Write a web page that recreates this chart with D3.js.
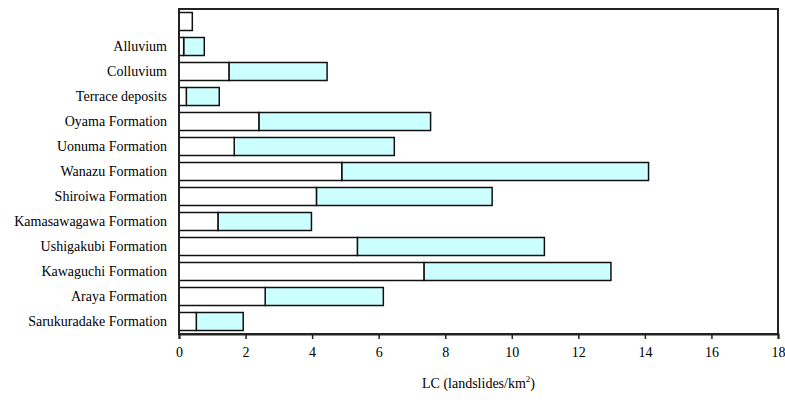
<!DOCTYPE html>
<html>
<head>
<meta charset="utf-8">
<script src="https://cdn.jsdelivr.net/npm/d3@7"></script>
<style>
  body { margin: 0; background: #fff; }
</style>
</head>
<body>
<div id="chart"></div>
<script>
'use strict';

var serif = '"Liberation Serif", "Times New Roman", Times, serif';

// categories, top to bottom (first row has no label)
var categories = ['', 'Alluvium', 'Colluvium', 'Terrace deposits', 'Oyama Formation',
    'Uonuma Formation', 'Wanazu Formation', 'Shiroiwa Formation', 'Kamasawagawa Formation',
    'Ushigakubi Formation', 'Kawaguchi Formation', 'Araya Formation', 'Sarukuradake Formation'];
// white segment (from 0)
var whiteValues = [0.4, 0.14, 1.5, 0.22, 2.4, 1.66, 4.89, 4.13, 1.17, 5.36, 7.36, 2.59, 0.52];
// cyan segment end (total)
var totalValues = [0.4, 0.76, 4.45, 1.21, 7.56, 6.47, 14.11, 9.41, 3.98, 10.98, 12.98, 6.14, 1.93];
var xTicks = [0, 2, 4, 6, 8, 10, 12, 14, 16, 18];

var width = 785, height = 402;
var margin = {top: 9, right: 7, bottom: 68, left: 179};

var svg = d3.select('#chart').append('svg')
    .attr('width', width)
    .attr('height', height)
    .attr('font-family', serif);

var x = d3.scaleLinear().domain([0, 18]).range([margin.left, width - margin.right]);
var y = d3.scaleBand().domain(categories)
    .range([margin.top, height - margin.bottom])
    .paddingInner(0.28).paddingOuter(0.14);

var rows = categories.map(function(c, i) {
    return {cat: c, w: whiteValues[i], t: totalValues[i]};
});

// cyan segments
svg.append('g').selectAll('rect')
    .data(rows.filter(function(d) { return d.t > d.w; }))
    .enter().append('rect')
    .attr('x', function(d) { return x(d.w); })
    .attr('y', function(d) { return y(d.cat); })
    .attr('width', function(d) { return x(d.t) - x(d.w); })
    .attr('height', y.bandwidth())
    .attr('fill', '#ccffff')
    .attr('stroke', '#111')
    .attr('stroke-width', 1.5);

// white segments
svg.append('g').selectAll('rect')
    .data(rows)
    .enter().append('rect')
    .attr('x', x(0))
    .attr('y', function(d) { return y(d.cat); })
    .attr('width', function(d) { return x(d.w) - x(0); })
    .attr('height', y.bandwidth())
    .attr('fill', '#fff')
    .attr('stroke', '#111')
    .attr('stroke-width', 1.5);

// plot frame
svg.append('rect')
    .attr('x', margin.left)
    .attr('y', margin.top)
    .attr('width', width - margin.right - margin.left)
    .attr('height', height - margin.bottom - margin.top)
    .attr('fill', 'none')
    .attr('stroke', '#222')
    .attr('stroke-width', 2);

// x axis
var xAxis = svg.append('g')
    .attr('transform', 'translate(0,' + (height - margin.bottom) + ')')
    .call(d3.axisBottom(x).tickValues(xTicks).tickSize(5).tickPadding(8).tickFormat(d3.format('d')));
xAxis.attr('font-family', serif).attr('font-size', 14);
xAxis.select('.domain').attr('stroke', '#222').attr('stroke-width', 2);
xAxis.selectAll('.tick line').attr('stroke', '#222').attr('stroke-width', 1.5);
xAxis.selectAll('text').attr('fill', '#000');

// category labels
svg.append('g').selectAll('text')
    .data(categories)
    .enter().append('text')
    .attr('x', margin.left - 12)
    .attr('y', function(d) { return y(d) + y.bandwidth() / 2; })
    .attr('dy', '0.35em')
    .attr('text-anchor', 'end')
    .attr('font-size', 14)
    .text(function(d) { return d; });

// axis title
var title = svg.append('text')
    .attr('x', (margin.left + width - margin.right) / 2)
    .attr('y', 388)
    .attr('text-anchor', 'middle')
    .attr('font-size', 14);
title.append('tspan').text('LC (landslides/km');
title.append('tspan').attr('dy', -6).attr('font-size', 9).text('2');
title.append('tspan').attr('dy', 6).text(')');
</script>
</body>
</html>
